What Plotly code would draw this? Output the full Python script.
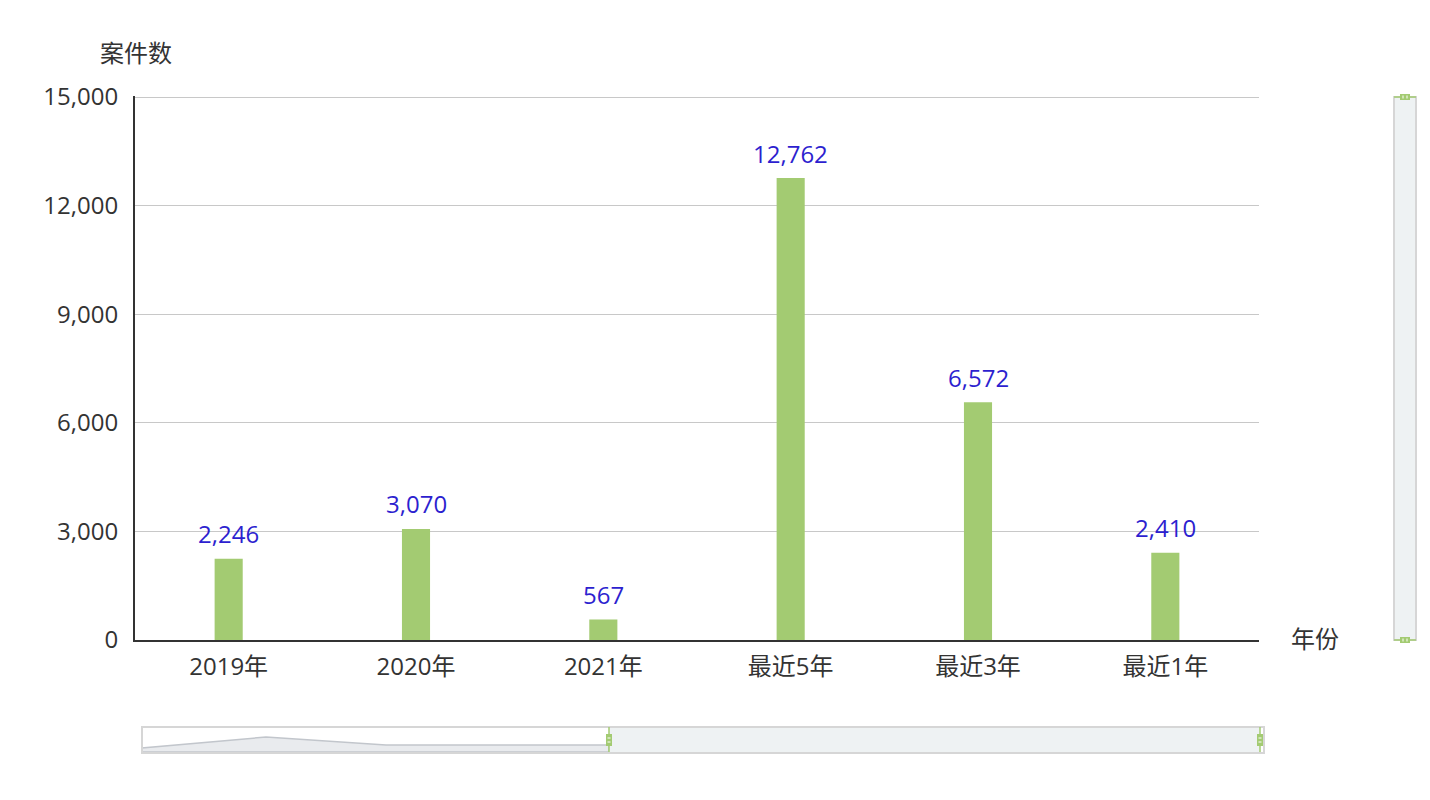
import plotly.graph_objects as go

categories = ["2019年", "2020年", "2021年", "最近5年", "最近3年", "最近1年"]
values = [2246, 3070, 567, 12762, 6572, 2410]
y_ticks = [0, 3000, 6000, 9000, 12000, 15000]
y_tick_text = ["0", "3,000", "6,000", "9,000", "12,000", "15,000"]

FONT = "Open Sans, Noto Sans CJK SC, sans-serif"
W, H = 1430, 800
OX, OY = 7, 8  # page offset of the plot in the browser
L, R, T, B = 134, 1258, 96, 640


def px(x):
    return (x - L) / (R - L)


def py(y):
    return (B - y) / (B - T)


fig = go.Figure()
fig.add_trace(go.Bar(
    x=categories, y=values,
    marker=dict(color="#a3cb72", line=dict(width=0)),
    width=0.15,
    hoverinfo="x+y",
))

for c, v in zip(categories, values):
    fig.add_annotation(x=c, y=v, text=f"{v:,}", showarrow=False, yshift=25,
                       font=dict(family=FONT, size=24, color="#2d1fcf"))

shapes = []
# horizontal slider
hx0, hx1, hy0, hy1 = 141, 1263, 727, 753
shadow = [(141, 748), (265, 737), (385, 745), (608, 745)]
path = f"M {px(141)},{py(752)} " + " ".join(f"L {px(a)},{py(b)}" for a, b in shadow) + f" L {px(608)},{py(752)} Z"
shapes.append(dict(type="path", xref="paper", yref="paper", path=path, fillcolor="#e9ebee",
                   line=dict(color="#c2c6cc", width=1.5), layer="above"))
shapes.append(dict(type="rect", xref="paper", yref="paper", x0=px(608), x1=px(1259), y0=py(752), y1=py(728),
                   fillcolor="#eef2f3", line=dict(width=0), layer="above"))
shapes.append(dict(type="rect", xref="paper", yref="paper", x0=px(hx0), x1=px(hx1), y0=py(hy1), y1=py(hy0),
                   line=dict(color="#d6d6d6", width=2), fillcolor="rgba(0,0,0,0)", layer="above"))
for hx in (608, 1259):
    shapes.append(dict(type="line", xref="paper", yref="paper", x0=px(hx), x1=px(hx), y0=py(752), y1=py(727),
                       line=dict(color="#a3cb72", width=1.5), layer="above"))
    shapes.append(dict(type="rect", xref="paper", yref="paper", x0=px(hx - 3), x1=px(hx + 3), y0=py(746), y1=py(734),
                       fillcolor="#a3cb72", line=dict(width=0), layer="above"))
    for sy in (738, 742):
        shapes.append(dict(type="line", xref="paper", yref="paper", x0=px(hx - 1.5), x1=px(hx + 1.5), y0=py(sy), y1=py(sy),
                           line=dict(color="white", width=1), layer="above"))
# vertical slider
vx0, vx1, vy0, vy1 = 1393, 1415, 97, 640
shapes.append(dict(type="rect", xref="paper", yref="paper", x0=px(vx0), x1=px(vx1), y0=py(vy1), y1=py(vy0),
                   fillcolor="#eef2f3", line=dict(color="#d6d6d6", width=2), layer="above"))
for vy in (vy0, vy1):
    shapes.append(dict(type="line", xref="paper", yref="paper", x0=px(vx0), x1=px(vx1), y0=py(vy), y1=py(vy),
                       line=dict(color="#a3cb72", width=1.5), layer="above"))
    shapes.append(dict(type="rect", xref="paper", yref="paper", x0=px(1399), x1=px(1409), y0=py(vy + 3), y1=py(vy - 3),
                       fillcolor="#a3cb72", line=dict(width=0), layer="above"))
    for sx in (1402, 1406):
        shapes.append(dict(type="line", xref="paper", yref="paper", x0=px(sx), x1=px(sx), y0=py(vy + 1.5), y1=py(vy - 1.5),
                           line=dict(color="white", width=1), layer="above"))

fig.update_layout(
    width=W, height=H,
    margin=dict(l=L - OX, r=W - (R - OX), t=T - OY, b=H - (B - OY)),
    paper_bgcolor="white", plot_bgcolor="white",
    showlegend=False,
    font=dict(family=FONT, size=24, color="#333333"),
    xaxis=dict(showline=True, linecolor="#333333", linewidth=2, ticks="", showgrid=False,
               tickfont=dict(size=24, color="#333333"), fixedrange=True, ticklabelstandoff=4),
    yaxis=dict(range=[0, 15030], tickvals=y_ticks, ticktext=y_tick_text, showline=True,
               linecolor="#333333", linewidth=2, gridcolor="#c8c8c8", gridwidth=1, ticks="",
               tickfont=dict(size=24, color="#333333"), zeroline=False, fixedrange=True,
               ticklabelstandoff=10),
    shapes=shapes,
    annotations=list(fig.layout.annotations) + [
        dict(text="案件数", xref="paper", yref="paper", x=px(135), y=py(52), showarrow=False,
             font=dict(family=FONT, size=24, color="#333333"), xanchor="center", yanchor="middle"),
        dict(text="年份", xref="paper", yref="paper", x=px(1288), y=py(638), showarrow=False,
             font=dict(family=FONT, size=24, color="#333333"), xanchor="left", yanchor="middle"),
    ],
)

fig.write_html("out.html")
